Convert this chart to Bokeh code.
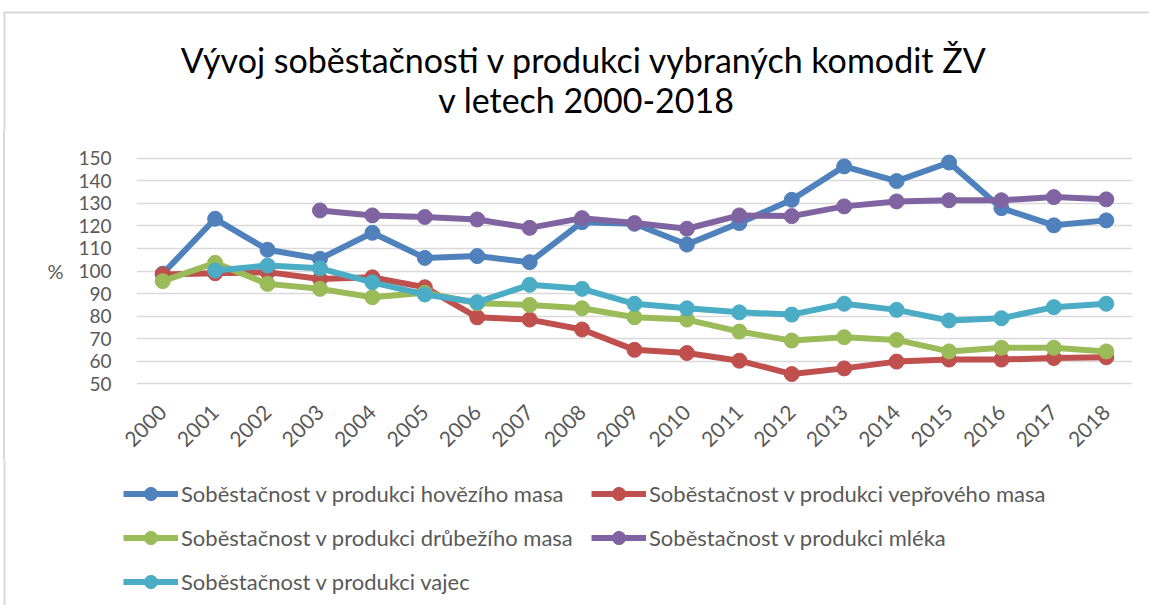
import math
from bokeh.plotting import figure
from bokeh.layouts import column
from bokeh.models import (FactorRange, Range1d, FixedTicker, Legend, LegendItem,
                          Label, BoxAnnotation, ColumnDataSource)
from bokeh.embed import file_html
from bokeh.resources import INLINE

NaN = float("nan")

years = ["2000", "2001", "2002", "2003", "2004", "2005", "2006", "2007", "2008", "2009",
         "2010", "2011", "2012", "2013", "2014", "2015", "2016", "2017", "2018"]

beef = [98.8, 123.1, 109.4, 105.4, 116.9, 105.8, 106.6, 103.9, 121.6, 120.9,
        111.7, 121.2, 131.5, 146.3, 139.8, 148.0, 127.8, 120.2, 122.4]
pork = [98.5, 99.0, 99.5, 96.5, 97.2, 92.8, 79.5, 78.5, 74.1, 65.1,
        63.7, 60.3, 54.4, 56.9, 59.9, 60.8, 60.8, 61.5, 61.8]
poultry = [95.5, 103.6, 94.3, 92.1, 88.4, 90.4, 85.7, 85.0, 83.5, 79.5,
           78.5, 73.2, 69.2, 70.7, 69.5, 64.4, 66.0, 66.0, 64.4]
milk = [NaN, NaN, NaN, 126.8, 124.6, 123.9, 122.8, 119.1, 123.4, 121.2,
        118.7, 124.6, 124.3, 128.6, 130.8, 131.3, 131.3, 132.7, 131.7]
eggs = [NaN, 100.2, 102.4, 101.2, 95.0, 89.6, 86.2, 93.9, 92.1, 85.5,
        83.5, 81.7, 80.7, 85.5, 82.8, 78.1, 79.1, 84.0, 85.5]

series_names = ["Soběstačnost v produkci hovězího masa",
                "Soběstačnost v produkci vepřového masa",
                "Soběstačnost v produkci drůbežího masa",
                "Soběstačnost v produkci mléka",
                "Soběstačnost v produkci vajec"]
series_values = [beef, pork, poultry, milk, eggs]
series_colors = ["#4F81BD", "#C0504D", "#9BBB59", "#8064A2", "#4BACC6"]

y_ticks = [50, 60, 70, 80, 90, 100, 110, 120, 130, 140, 150]

title_line1 = "Vývoj soběstačnosti v produkci vybraných komodit ŽV"
title_line2 = "v letech 2000-2018"
y_label = "%"

FONT = "Lato"
GRAY = "#595959"
BORDER = "#d9d9d9"
W = 1149


def bare(fig):
    fig.outline_line_color = None
    fig.border_fill_color = None
    fig.background_fill_color = None
    fig.min_border = 0
    fig.frame_align = False
    fig.grid.visible = False
    return fig


def border_strip(left, right, top, bottom):
    return BoxAnnotation(left=left, right=right, top=top, bottom=bottom,
                         left_units="screen", right_units="screen",
                         top_units="screen", bottom_units="screen",
                         fill_color=BORDER, fill_alpha=1, line_color=None)


# ---- title strip ----
p_title = bare(figure(width=W, height=130, output_backend="svg", toolbar_location=None,
                      x_axis_type=None, y_axis_type=None,
                      x_range=Range1d(0, 1), y_range=Range1d(0, 1)))
p_title.add_layout(border_strip(3, 5000, 119, 117))   # top edge of the chart area
p_title.add_layout(border_strip(3, 5, 119, -10))      # left edge of the chart area
p_title.add_layout(Label(x=584, y=71, x_units="screen", y_units="screen", text=title_line1,
                         text_align="center", text_baseline="alphabetic",
                         text_font=FONT, text_font_size="34px", text_color="#000000"))
p_title.add_layout(Label(x=586, y=31, x_units="screen", y_units="screen", text=title_line2,
                         text_align="center", text_baseline="alphabetic",
                         text_font=FONT, text_font_size="34px", text_color="#000000"))

# ---- main chart ----
p = figure(width=W, height=330, output_backend="svg", toolbar_location=None,
           x_range=FactorRange(*years, range_padding=0),
           y_range=Range1d(48, 152),
           min_border_left=136, min_border_right=17,
           min_border_top=23, min_border_bottom=72)
p.frame_align = False
p.outline_line_color = None
p.background_fill_color = None
p.border_fill_color = None
p.styles = {"background-image": "linear-gradient(#d9d9d9, #d9d9d9)",
            "background-size": "2px 100%",
            "background-position": "3px 0px",
            "background-repeat": "no-repeat"}

p.xgrid.grid_line_color = None
p.ygrid.grid_line_color = BORDER
p.ygrid.grid_line_width = 1.6

p.yaxis.ticker = FixedTicker(ticks=y_ticks)
for ax in (p.xaxis, p.yaxis):
    ax.axis_line_color = None
    ax.major_tick_line_color = None
    ax.minor_tick_line_color = None
    ax.major_label_text_color = GRAY
    ax.major_label_text_font = FONT
p.yaxis.major_label_text_font_size = "19px"
p.yaxis.major_label_standoff = 19
p.yaxis.axis_label = y_label
p.yaxis.axis_label_orientation = "horizontal"
p.yaxis.axis_label_text_font = FONT
p.yaxis.axis_label_text_font_size = "20px"
p.yaxis.axis_label_text_font_style = "normal"
p.yaxis.axis_label_text_color = GRAY
p.yaxis.axis_label_standoff = 12
p.xaxis.major_label_text_font_size = "21px"
p.xaxis.major_label_orientation = math.pi / 4
p.xaxis.major_label_standoff = 14

for vals, col in zip(series_values, series_colors):
    src = ColumnDataSource(dict(x=years, y=vals))
    p.line("x", "y", source=src, line_color=col, line_width=6)
    p.scatter("x", "y", source=src, marker="circle", size=15,
              fill_color=col, line_color=col)

# ---- legend strip (its renderers sit outside the visible y range) ----
p_leg = bare(figure(width=W, height=145, output_backend="svg", toolbar_location=None,
                    x_axis_type=None, y_axis_type=None,
                    x_range=FactorRange(*years, range_padding=0),
                    y_range=Range1d(1000, 1001)))
p_leg.add_layout(border_strip(3, 5, 1000, -1000))    # left edge of the chart area
items = []
for name, vals, col in zip(series_names, series_values, series_colors):
    src = ColumnDataSource(dict(x=years, y=vals))
    r_line = p_leg.line("x", "y", source=src, line_color=col, line_width=6)
    r_pts = p_leg.scatter("x", "y", source=src, marker="circle", size=15,
                          fill_color=col, line_color=col)
    items.append(LegendItem(label=name, renderers=[r_line, r_pts]))

legend = Legend(items=items, location=(123, 7.5), orientation="horizontal", ncols=2,
                glyph_width=55, glyph_height=33, label_standoff=3, spacing=11,
                label_width=399,
                padding=0, margin=0, border_line_color=None, background_fill_alpha=0,
                label_text_font=FONT, label_text_font_size="22px",
                label_text_color=GRAY)
p_leg.add_layout(legend, "center")

layout = column(p_title, p, p_leg, spacing=0)

open("out.html", "w").write(file_html(layout, INLINE))
